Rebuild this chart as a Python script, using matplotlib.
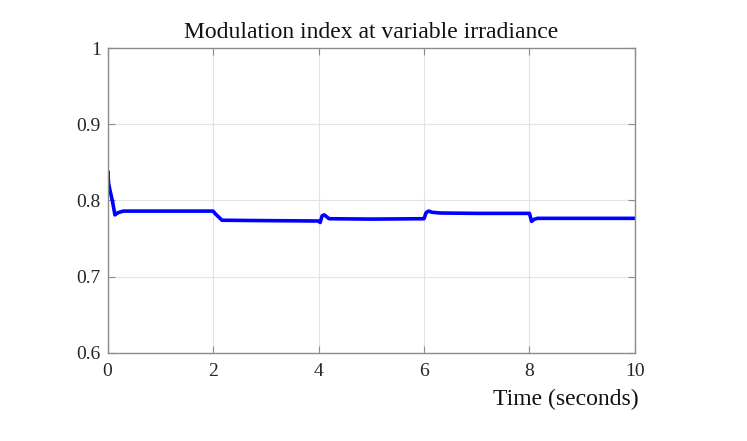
import numpy as np
from matplotlib import pyplot as plt

# breakpoints of the modulation index trace
time_s = [0.0, 0.005, 0.02, 0.05, 0.09, 0.14, 0.2, 0.3, 1.0, 2.0, 2.05, 2.17, 3.0, 4.0,
          4.03, 4.07, 4.11, 4.2, 5.0, 6.0, 6.04, 6.09, 6.15, 6.3, 7.0, 8.0, 8.04, 8.08,
          8.15, 9.0, 10.0]
mod_index = [0.815, 0.838, 0.822, 0.812, 0.80, 0.781, 0.784, 0.786, 0.786, 0.786, 0.782,
             0.774, 0.7735, 0.773, 0.771, 0.780, 0.781, 0.776, 0.7755, 0.776, 0.784,
             0.786, 0.7845, 0.7835, 0.783, 0.783, 0.7725, 0.775, 0.7765, 0.7765, 0.7765]

xticks = [0, 2, 4, 6, 8, 10]
yticks = [0.6, 0.7, 0.8, 0.9, 1.0]
ytick_labels = ["0.6", "0.7", "0.8", "0.9", "1"]

plt.rcParams['font.family'] = ['Liberation Serif', 'DejaVu Serif']

fig = plt.figure(figsize=(7.47, 4.41), dpi=100)
ax = fig.add_axes([0.144, 0.200, 0.706, 0.691])

ax.plot(time_s, mod_index, color='#0000ff', linewidth=2.6)

ax.set_xlim(0, 10)
ax.set_ylim(0.6, 1.0)
ax.set_xticks(xticks)
ax.set_xticklabels([str(x) for x in xticks])
ax.set_yticks(yticks)
ax.set_yticklabels(ytick_labels)

ax.grid(True, color='#e3e3e3', linewidth=0.8)
ax.set_axisbelow(True)
for sp in ax.spines.values():
    sp.set_color('#8c8c8c')
    sp.set_linewidth(1.0)
ax.tick_params(direction='in', length=5, width=0.8, color='#8c8c8c',
               top=True, right=True, labelsize=14, labelcolor='#262626')
ax.tick_params(axis='x', pad=7)
ax.tick_params(axis='y', pad=5)

ax.set_title("Modulation index at variable irradiance", fontsize=17,
             color='#111111', pad=7)
ax.set_xlabel("Time (seconds)", fontsize=17, color='#111111')
ax.xaxis.set_label_coords(0.869, -0.118)

fig.savefig("out.png", dpi=100)
